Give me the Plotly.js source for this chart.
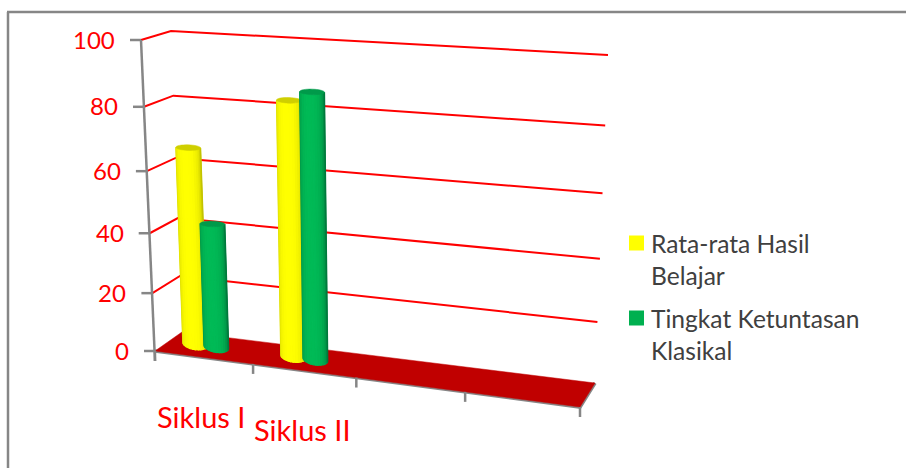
<!DOCTYPE html>
<html><head><meta charset="utf-8">
<script src="https://cdn.plot.ly/plotly-3.0.1.min.js"></script>
<style>html,body{margin:0;padding:0;background:#fff}</style></head>
<body><div id="chart" style="width:906px;height:468px"></div>
<script>
const categories = ['Siklus I', 'Siklus II', '', ''];
const seriesNames = ['Rata-rata Hasil<br>Belajar', 'Tingkat Ketuntasan<br>Klasikal'];
const rataRata = [66, 83];
const ketuntasan = [42, 86];
const yTicks = [0, 20, 40, 60, 80, 100];

// view of the 3D box, as the picture shows it
const FL0=[155,351], FR0=[580,407], BL0=[182,332], BR0=[595,383];
const FL1=[141,40],  FR1=[591,68],  BL1=[171,31],  BR1=[608,55];
const lerp=(a,b,t)=>[a[0]+(b[0]-a[0])*t,a[1]+(b[1]-a[1])*t];
const fu=u=>u*0.9/(1-0.1*u);
const gv=v=>0.914*v/(1-0.086*v);
function project(slot,value,depth){
  const f=fu(slot/categories.length), g=gv(value/100);
  const lo=lerp(lerp(FL0,FR0,f),lerp(BL0,BR0,f),depth);
  const hi=lerp(lerp(FL1,FR1,f),lerp(BL1,BR1,f),depth);
  return lerp(lo,hi,g);
}
const traces=[];
function poly(pts,fill,line,lw){
  traces.push({x:pts.map(p=>p[0]),y:pts.map(p=>p[1]),mode:'lines',fill:fill?'toself':'none',
    fillcolor:fill||undefined,line:{color:line||fill,width:lw===undefined?1.2:lw,simplify:false},
    hoverinfo:'skip',showlegend:false});
}
// gridlines
yTicks.slice(1).forEach(v=>poly([project(0,v,0),project(0,v,1),project(categories.length,v,1)],null,'#ff0000',2));
// floor thickness + floor
poly([project(0,0,0),project(4,0,0),project(4,0,1)],null,'#868686',3.5);
poly([project(0,0,0),project(4,0,0),project(4,0,1),project(0,0,1),project(0,0,0)],'#C00000','#C00000',0.5);
// axes
poly([project(0,100,0),[project(0,0,0)[0],project(0,0,0)[1]+10]],null,'#868686',2.5);
yTicks.forEach(v=>{const p=project(0,v,0);poly([[p[0]-11,p[1]],[p[0],p[1]]],null,'#868686',2.5);});
categories.concat(['']).forEach((c,i)=>{const p=project(i,0,0);poly([[p[0],p[1]],[p[0],p[1]+10]],null,'#868686',2.5);});
// cylinders
function shade(c0,c1,t){ // t 0..1 across the width
  const k=Math.pow(Math.abs(2*t-0.9)/1.1,2.4);const m=Math.min(1,k);
  return 'rgb('+c0.map((c,i)=>Math.round(c1[i]+(c-c1[i])*m)).join(',')+')';
}
function cylinder(slot,value,edge,mid,top){
  const RX=12.4,SL=0.13,N=14,depth=0.53;
  const b=project(slot,0,depth),t=project(slot,value,depth);
  const rb=5.5,rt=2.8;
  for(let i=0;i<N;i++){
    const a0=Math.PI-Math.PI*i/N,a1=Math.PI-Math.PI*(i+1)/N,s=[];
    [a0,a1].forEach(a=>s.push([b[0]+RX*Math.cos(a),b[1]+rb*Math.sin(a)+SL*RX*Math.cos(a)]));
    [a1,a0].forEach(a=>s.push([t[0]+RX*Math.cos(a),t[1]+rt*Math.sin(a)+0.03*RX*Math.cos(a)]));
    s.push(s[0]);
    poly(s,shade(edge,mid,(i+0.5)/N));
  }
  const e=[];for(let i=0;i<=32;i++){const a=2*Math.PI*i/32;e.push([t[0]+RX*Math.cos(a),t[1]+rt*Math.sin(a)+0.03*RX*Math.cos(a)]);}
  poly(e,top,top,0.5);
}
const slotPos=0.383, barStep=0.22;
categories.forEach((c,i)=>{
  if(i<rataRata.length) cylinder(i+slotPos-barStep/2,rataRata[i],[185,185,0],[255,255,0],'#CFCF00');
  if(i<ketuntasan.length) cylinder(i+slotPos+barStep/2,ketuntasan[i],[0,110,55],[0,186,86],'#009A4A');
});
const ann=[];
yTicks.forEach(v=>{const p=project(0,v,0);
  ann.push({x:p[0]-24,y:p[1]-1,xref:'x',yref:'y',xanchor:'right',yanchor:'middle',text:String(v),showarrow:false,
    font:{family:'Lato',size:24,color:'#ff0000'}});});
[[201,416],[302,429]].forEach((p,i)=>ann.push({x:p[0],y:p[1],xref:'x',yref:'y',xanchor:'center',yanchor:'middle',
  text:categories[i],showarrow:false,font:{family:'Lato',size:29,color:'#ff0000'}}));
// legend
const legendColors=['#FFFF00','#00B050'], legendY=[243,318];
seriesNames.forEach((n,i)=>{
  traces.push({x:[636.5],y:[legendY[i]],mode:'markers',type:'scatter',name:n.replace('<br>',' '),
    marker:{symbol:'square',size:15,color:legendColors[i]},hoverinfo:'skip',showlegend:false});
  ann.push({x:649,y:legendY[i]-16,xref:'x',yref:'y',xanchor:'left',yanchor:'top',align:'left',text:n,showarrow:false,
    font:{family:'Lato',size:24.6,color:'#404040'}});
});
const layout={width:906,height:468,margin:{l:0,r:0,t:0,b:0},paper_bgcolor:'#fff',plot_bgcolor:'#fff',showlegend:false,
  xaxis:{range:[0,906],visible:false,fixedrange:true},
  yaxis:{range:[468,0],visible:false,fixedrange:true},
  annotations:ann,
  shapes:[
    {type:'line',xref:'x',yref:'y',x0:8,y0:468,x1:8,y1:12,line:{color:'#868686',width:2.5}},
    {type:'line',xref:'x',yref:'y',x0:7,y0:12,x1:906,y1:12,line:{color:'#868686',width:2.5}}]
};
Plotly.newPlot('chart',traces,layout,{displayModeBar:false,staticPlot:true});
</script></body></html>
